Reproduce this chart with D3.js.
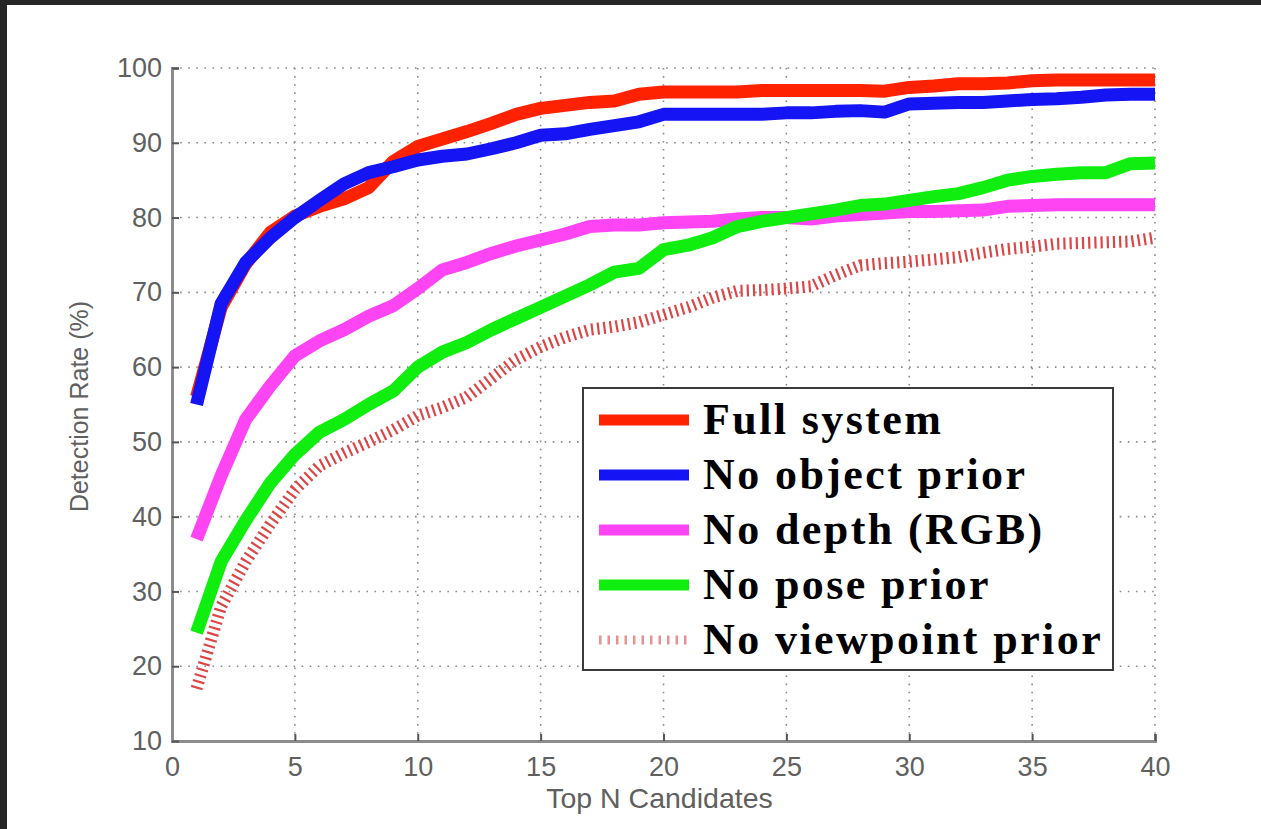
<!DOCTYPE html>
<html>
<head>
<meta charset="utf-8">
<script src="https://cdn.jsdelivr.net/npm/d3@7"></script>
<style>
  body { margin: 0; background: #262626; }
  svg { display: block; }
</style>
</head>
<body>
<div id="chart"></div>
<script>
// top N candidates 1..40
let top_n = d3.range(1, 41);

let full_system = [56, 68, 73.8, 78, 80.2, 81.5, 82.5, 84, 87.5, 89.5,
  90.5, 91.5, 92.6, 93.8, 94.6, 95, 95.4, 95.6, 96.5, 96.8,
  96.8, 96.8, 96.8, 97, 97, 97, 97, 97, 96.9, 97.4,
  97.6, 97.9, 97.9, 98, 98.3, 98.4, 98.4, 98.4, 98.4, 98.4];
let no_object_prior = [55, 68.5, 74, 77.3, 80, 82.3, 84.5, 86, 86.8, 87.7,
  88.2, 88.5, 89.2, 90, 91, 91.2, 91.8, 92.3, 92.8, 93.8,
  93.8, 93.8, 93.8, 93.8, 94, 94, 94.2, 94.3, 94.1, 95.2,
  95.3, 95.4, 95.4, 95.6, 95.8, 95.9, 96.1, 96.4, 96.5, 96.5];
let no_depth = [37, 45.5, 53, 57.5, 61.5, 63.5, 65, 66.8, 68.2, 70.5,
  73, 74, 75.2, 76.2, 77, 77.8, 78.8, 79, 79, 79.3,
  79.4, 79.5, 79.8, 80, 80, 79.8, 80.2, 80.4, 80.6, 80.8,
  80.8, 80.9, 81, 81.5, 81.6, 81.7, 81.7, 81.7, 81.7, 81.7];
let no_pose_prior = [24.5, 34, 39.5, 44.5, 48.3, 51.3, 53, 55, 56.8, 60,
  62, 63.3, 65, 66.5, 68, 69.5, 71, 72.7, 73.2, 75.7,
  76.3, 77.3, 78.8, 79.5, 80, 80.5, 81, 81.6, 81.8, 82.3,
  82.8, 83.2, 84, 85, 85.5, 85.8, 86, 86, 87.2, 87.3];
let no_viewpoint_prior = [17, 28, 34, 39, 43.6, 46.8, 48.5, 50, 51.6, 53.5,
  54.6, 56, 58.5, 61, 62.7, 64, 65, 65.4, 66, 67,
  68, 69.3, 70.2, 70.3, 70.5, 70.8, 72.3, 73.6, 73.9, 74.1,
  74.4, 74.7, 75.3, 75.8, 76.1, 76.5, 76.6, 76.7, 76.8, 77.3];

let series_names = ["Full system", "No object prior", "No depth (RGB)", "No pose prior", "No viewpoint prior"];
let series_values = [full_system, no_object_prior, no_depth, no_pose_prior, no_viewpoint_prior];
let series_colors = ["#ff2200", "#1414f5", "#ff44f4", "#10ee10", "#dc4646"];

let x_ticks = d3.range(0, 41, 5);
let y_ticks = d3.range(10, 101, 10);

let graph_config = {
  width: 1261,
  height: 829,
  margin: { left: 172, right: 106, top: 68, bottom: 88 }
};
let { width, height, margin } = graph_config;
let inner_w = width - margin.left - margin.right;
let inner_h = height - margin.top - margin.bottom;

let svg = d3.select("#chart").append("svg")
  .attr("width", width)
  .attr("height", height);

// white page inside the dark frame
svg.append("rect")
  .attr("x", 7).attr("y", 5)
  .attr("width", width - 7).attr("height", height - 5)
  .attr("fill", "#ffffff");

let g = svg.append("g")
  .attr("transform", "translate(" + margin.left + "," + margin.top + ")");

let x_scale = d3.scaleLinear().domain([0, 40]).range([0, inner_w]);
let y_scale = d3.scaleLinear().domain([10, 100]).range([inner_h, 0]);

// dotted grid
g.append("g")
  .selectAll("line")
  .data(x_ticks.slice(1))
  .enter().append("line")
  .attr("x1", d => x_scale(d)).attr("x2", d => x_scale(d))
  .attr("y1", 0).attr("y2", inner_h)
  .attr("stroke", "#8a8a8a").attr("stroke-width", 1.6)
  .attr("stroke-dasharray", "1.6,6.5");
g.append("g")
  .selectAll("line")
  .data(y_ticks.slice(1))
  .enter().append("line")
  .attr("x1", 0).attr("x2", inner_w)
  .attr("y1", d => y_scale(d)).attr("y2", d => y_scale(d))
  .attr("stroke", "#8a8a8a").attr("stroke-width", 1.6)
  .attr("stroke-dasharray", "1.6,6.5");

// axes, matlab style ticks pointing inward
let x_axis = g.append("g")
  .attr("transform", "translate(0," + inner_h + ")")
  .call(d3.axisBottom(x_scale).tickValues(x_ticks).tickSize(-7).tickPadding(16));
let y_axis = g.append("g")
  .call(d3.axisLeft(y_scale).tickValues(y_ticks).tickSize(-7).tickPadding(10));

[x_axis, y_axis].forEach(ax => {
  ax.select(".domain").attr("stroke", "#8c8c8c").attr("stroke-width", 3);
  ax.selectAll(".tick line").attr("stroke", "#555").attr("stroke-width", 2);
  ax.selectAll(".tick text")
    .attr("fill", "#606060")
    .style("font-family", "Liberation Sans, Arial, sans-serif")
    .style("font-size", "27px");
});

g.append("text")
  .attr("x", inner_w / 2 - 4)
  .attr("y", inner_h + 67)
  .attr("text-anchor", "middle")
  .attr("fill", "#606060")
  .style("font-family", "Liberation Sans, Arial, sans-serif")
  .style("font-size", "28.5px")
  .text("Top N Candidates");

g.append("text")
  .attr("transform", "translate(-84," + (y_scale(55) + 2) + ") rotate(-90)")
  .attr("text-anchor", "middle")
  .attr("fill", "#606060")
  .style("font-family", "Liberation Sans, Arial, sans-serif")
  .style("font-size", "25px")
  .text("Detection Rate (%)");

// series
let line = d3.line()
  .x((d, i) => x_scale(top_n[i]))
  .y(d => y_scale(d));

series_values.forEach((vals, i) => {
  let dotted = i === 4;
  g.append("path")
    .datum(vals)
    .attr("d", line)
    .attr("fill", "none")
    .attr("stroke", series_colors[i])
    .attr("stroke-width", dotted ? 12 : 13)
    .attr("stroke-linejoin", "round")
    .attr("stroke-dasharray", dotted ? "2.2,4" : null);
});

// legend
let legend = svg.append("g").attr("transform", "translate(583,388)");
legend.append("rect")
  .attr("width", 530).attr("height", 282)
  .attr("fill", "#ffffff")
  .attr("stroke", "#3a3a3a").attr("stroke-width", 2);

let rows = legend.selectAll(".row")
  .data(series_names)
  .enter().append("g")
  .attr("class", "row")
  .attr("transform", (d, i) => "translate(0," + (32 + i * 55) + ")");

rows.append("line")
  .attr("x1", 16).attr("x2", 106)
  .attr("stroke", (d, i) => series_colors[i])
  .attr("stroke-width", (d, i) => i === 4 ? 9 : 11)
  .attr("stroke-opacity", (d, i) => i === 4 ? 0.6 : 1)
  .attr("stroke-dasharray", (d, i) => i === 4 ? "2.5,6" : null);

rows.append("text")
  .attr("x", 120)
  .attr("y", 14)
  .attr("fill", "#000")
  .style("font-family", "Liberation Serif, Times New Roman, serif")
  .style("font-weight", "bold")
  .style("font-size", "44px")
  .style("letter-spacing", "2.4px")
  .text(d => d);
</script>
</body>
</html>
